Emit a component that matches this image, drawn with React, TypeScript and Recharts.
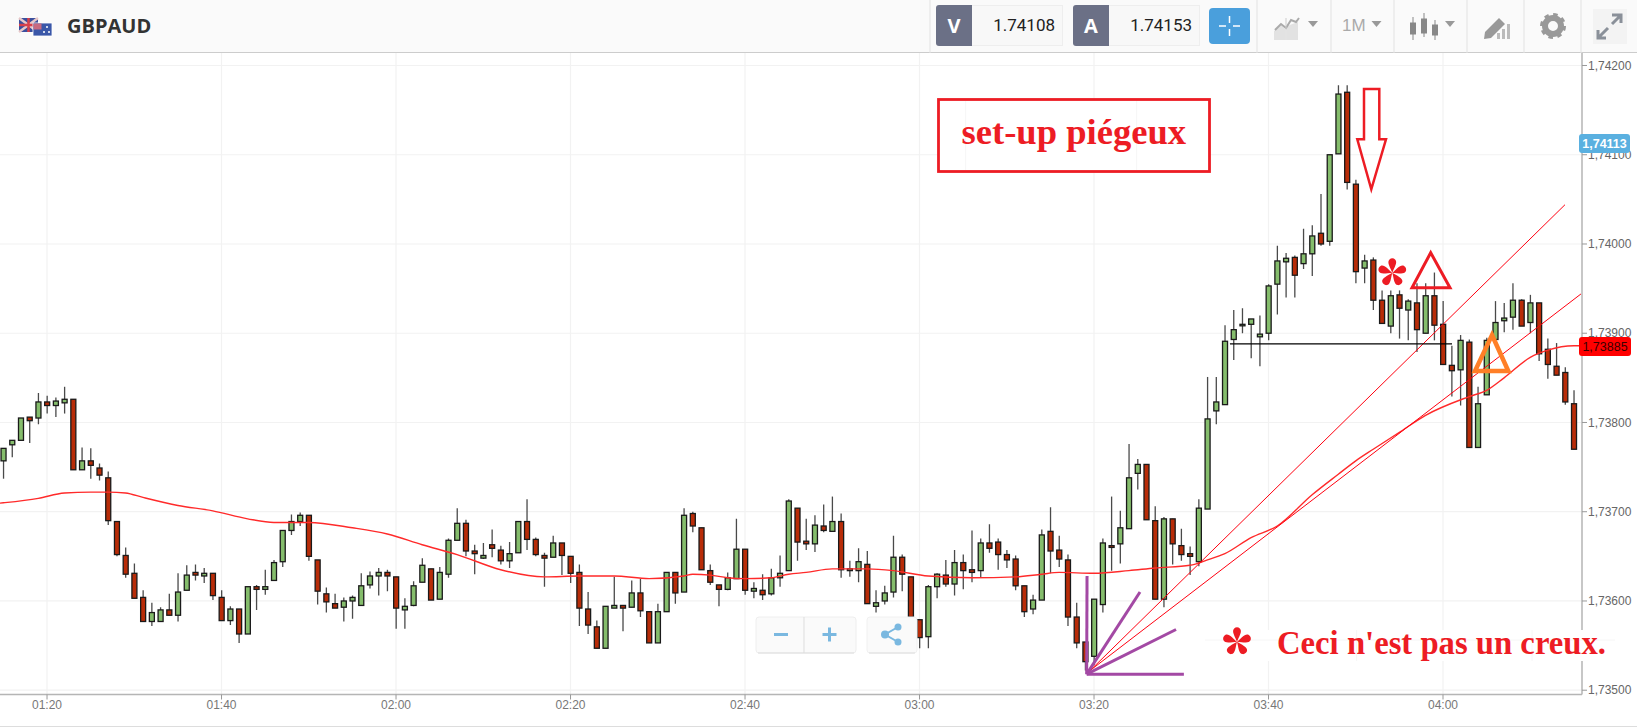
import React from 'react';
import { ComposedChart, Bar, Line, XAxis, YAxis, CartesianGrid, ReferenceLine } from 'recharts';

const firstMinute = 75; // 01:15, one candle per minute

const opens = [
  1.73757, 1.73775, 1.7378, 1.73806, 1.73805, 1.73823, 1.73819, 1.73822, 1.73826, 1.73747,
  1.73757, 1.73749, 1.73738, 1.73689, 1.73651, 1.73631, 1.73604, 1.73577, 1.73577, 1.7359,
  1.73584, 1.73612, 1.73632, 1.73628, 1.73631, 1.73604, 1.73578, 1.73591, 1.73563, 1.73616,
  1.73613, 1.73623, 1.73644, 1.73679, 1.73689, 1.73696, 1.73646, 1.73608, 1.73597, 1.73593,
  1.736, 1.73595, 1.73618, 1.73628, 1.73632, 1.73627, 1.7359, 1.73595, 1.73621, 1.73636,
  1.73602, 1.7363, 1.73668, 1.73687, 1.73656, 1.73648, 1.73663, 1.73657, 1.73645, 1.73654,
  1.73689, 1.73669, 1.73651, 1.73649, 1.73665, 1.7365, 1.73632, 1.73591, 1.73571, 1.73547,
  1.73592, 1.73595, 1.73593, 1.73609, 1.73588, 1.73553, 1.73588, 1.73632, 1.7361, 1.73698,
  1.73682, 1.73634, 1.73618, 1.73613, 1.73625, 1.73658, 1.73611, 1.73612, 1.73608, 1.73626,
  1.73634, 1.73704, 1.73667, 1.73664, 1.73684, 1.73678, 1.73689, 1.73634, 1.73634, 1.73641,
  1.73594, 1.736, 1.7361, 1.73649, 1.73627, 1.73579, 1.7356, 1.73616, 1.73629, 1.73619,
  1.73643, 1.73635, 1.73634, 1.73665, 1.73666, 1.73652, 1.73647, 1.73617, 1.73591, 1.73601,
  1.73678, 1.73657, 1.73646, 1.73582, 1.73554, 1.73538, 1.73596, 1.73662, 1.73664, 1.73681,
  1.73743, 1.73753, 1.7369, 1.73602, 1.73692, 1.73662, 1.73653, 1.73644, 1.73703, 1.73813,
  1.7382, 1.73893, 1.73909, 1.7391, 1.73896, 1.739, 1.73955, 1.7398, 1.73985, 1.73978,
  1.73989, 1.74012, 1.74003, 1.74101, 1.7417, 1.74067, 1.73973, 1.73982, 1.73937, 1.73908,
  1.73943, 1.73926, 1.73934, 1.739, 1.73942, 1.7391, 1.73864, 1.73859, 1.7389, 1.73772,
  1.73831, 1.73893, 1.73914, 1.73918, 1.73937, 1.73912, 1.73934, 1.73882, 1.73863, 1.73856,
  1.73821,
];

const highs = [
  1.73771, 1.7378, 1.73805, 1.73806, 1.73833, 1.7383, 1.73828, 1.7384, 1.73826, 1.73772,
  1.73771, 1.73754, 1.73745, 1.73689, 1.7366, 1.73642, 1.73612, 1.73598, 1.73593, 1.73608,
  1.73631, 1.7364, 1.73641, 1.73637, 1.73631, 1.73612, 1.73594, 1.73591, 1.73616, 1.73618,
  1.73635, 1.73646, 1.73679, 1.73697, 1.73699, 1.73696, 1.73646, 1.73615, 1.73608, 1.73604,
  1.73606, 1.73631, 1.73633, 1.73637, 1.73635, 1.73627, 1.73603, 1.73622, 1.73648, 1.73636,
  1.73638, 1.7367, 1.73704, 1.73691, 1.73663, 1.73665, 1.7368, 1.73662, 1.73666, 1.73689,
  1.73714, 1.73671, 1.73654, 1.73673, 1.73665, 1.7365, 1.73641, 1.7361, 1.73578, 1.73594,
  1.73627, 1.73595, 1.73623, 1.73625, 1.73588, 1.73597, 1.73632, 1.73632, 1.73704, 1.737,
  1.73682, 1.73641, 1.73618, 1.73632, 1.73692, 1.73658, 1.73621, 1.7363, 1.73636, 1.73651,
  1.73714, 1.73704, 1.73692, 1.73696, 1.73708, 1.73717, 1.73698, 1.73645, 1.73659, 1.73656,
  1.73612, 1.73617, 1.73673, 1.73652, 1.73627, 1.73579, 1.73618, 1.73631, 1.73646, 1.73657,
  1.73652, 1.73679, 1.7367, 1.73686, 1.7367, 1.73657, 1.73651, 1.73617, 1.73607, 1.7368,
  1.73705, 1.73673, 1.73652, 1.73598, 1.73554, 1.73602, 1.7367, 1.73717, 1.73701, 1.73776,
  1.73759, 1.73753, 1.73706, 1.73694, 1.73692, 1.73681, 1.73661, 1.73714, 1.73851, 1.73851,
  1.73909, 1.73926, 1.73928, 1.73916, 1.7392, 1.73955, 1.73998, 1.7399, 1.73987, 1.74017,
  1.74021, 1.74056, 1.741, 1.74178, 1.74178, 1.74072, 1.73988, 1.73985, 1.73948, 1.73948,
  1.73948, 1.73938, 1.73956, 1.73956, 1.73968, 1.73936, 1.73886, 1.73898, 1.73893, 1.7384,
  1.73895, 1.73936, 1.73934, 1.73956, 1.73938, 1.73943, 1.73934, 1.73894, 1.73889, 1.73862,
  1.73836,
];

const lows = [
  1.73737, 1.73761, 1.7378, 1.73777, 1.73798, 1.7381, 1.73806, 1.7381, 1.73747, 1.73747,
  1.73737, 1.73735, 1.73685, 1.7365, 1.73626, 1.73603, 1.73577, 1.73572, 1.73577, 1.73584,
  1.73577, 1.73612, 1.73623, 1.7362, 1.73601, 1.73578, 1.73573, 1.73553, 1.73563, 1.7359,
  1.73607, 1.73623, 1.73638, 1.73674, 1.73684, 1.73645, 1.73596, 1.73587, 1.73592, 1.73577,
  1.7358, 1.73595, 1.73614, 1.73606, 1.73611, 1.73569, 1.73569, 1.73594, 1.73621, 1.73601,
  1.73602, 1.73626, 1.73668, 1.7365, 1.7363, 1.73647, 1.73649, 1.73641, 1.73637, 1.73654,
  1.73657, 1.7365, 1.73616, 1.73649, 1.73629, 1.7362, 1.73572, 1.73563, 1.73547, 1.73547,
  1.73592, 1.73566, 1.73593, 1.73582, 1.73553, 1.73553, 1.73588, 1.73597, 1.7361, 1.73677,
  1.73635, 1.73618, 1.73594, 1.73612, 1.73625, 1.73607, 1.73603, 1.73601, 1.73606, 1.73616,
  1.73634, 1.73645, 1.73657, 1.73655, 1.73677, 1.73678, 1.73626, 1.73627, 1.73621, 1.73597,
  1.73587, 1.73596, 1.73604, 1.73611, 1.73572, 1.73547, 1.73547, 1.73603, 1.73616, 1.73606,
  1.73613, 1.73621, 1.73626, 1.73654, 1.73635, 1.73637, 1.73612, 1.73582, 1.73585, 1.73601,
  1.73631, 1.73638, 1.73572, 1.73547, 1.73522, 1.73528, 1.73587, 1.73634, 1.73642, 1.73681,
  1.73725, 1.73691, 1.73602, 1.73593, 1.73641, 1.73645, 1.73629, 1.73639, 1.73703, 1.73798,
  1.7382, 1.7387, 1.739, 1.73872, 1.73863, 1.73892, 1.73921, 1.7394, 1.7394, 1.73972,
  1.73964, 1.73998, 1.73998, 1.74101, 1.74061, 1.73956, 1.73956, 1.73926, 1.73911, 1.739,
  1.73894, 1.73892, 1.73879, 1.739, 1.73892, 1.73865, 1.73829, 1.73819, 1.73772, 1.73772,
  1.73831, 1.73893, 1.73901, 1.73904, 1.73908, 1.739, 1.73869, 1.73849, 1.73853, 1.7382,
  1.7377,
];

const closes = [
  1.73771, 1.7378, 1.73805, 1.73802, 1.73823, 1.73819, 1.73824, 1.73826, 1.73747, 1.73757,
  1.73752, 1.73741, 1.7369, 1.73652, 1.7363, 1.73603, 1.73577, 1.73587, 1.7359, 1.73584,
  1.7361, 1.73629, 1.73629, 1.73631, 1.73606, 1.73578, 1.73591, 1.73563, 1.73616, 1.73613,
  1.73616, 1.73643, 1.73679, 1.73689, 1.73696, 1.7365, 1.73611, 1.73599, 1.73592, 1.736,
  1.73604, 1.73617, 1.73628, 1.73632, 1.73628, 1.73592, 1.73594, 1.73617, 1.7364, 1.73601,
  1.73632, 1.73668, 1.73687, 1.73656, 1.73653, 1.73651, 1.73659, 1.73645, 1.73653, 1.73689,
  1.73669, 1.73652, 1.73648, 1.73665, 1.73651, 1.73631, 1.73592, 1.73573, 1.73547, 1.73594,
  1.73595, 1.73592, 1.73609, 1.73589, 1.73553, 1.73588, 1.73632, 1.73609, 1.73696, 1.73684,
  1.73635, 1.73621, 1.73613, 1.73626, 1.73658, 1.73612, 1.73614, 1.73607, 1.73626, 1.73631,
  1.73712, 1.73666, 1.73664, 1.73685, 1.73679, 1.73689, 1.73635, 1.73636, 1.73644, 1.73597,
  1.73598, 1.73609, 1.73649, 1.7363, 1.73582, 1.73559, 1.73616, 1.7363, 1.73619, 1.73643,
  1.73634, 1.73632, 1.73665, 1.73659, 1.73652, 1.73646, 1.73617, 1.73588, 1.73601, 1.73674,
  1.73656, 1.73647, 1.73582, 1.73553, 1.73532, 1.73602, 1.73665, 1.7366, 1.73682, 1.73738,
  1.73753, 1.73691, 1.73602, 1.73692, 1.73664, 1.73652, 1.7365, 1.73704, 1.73804, 1.73823,
  1.73891, 1.73904, 1.7391, 1.73916, 1.73899, 1.73953, 1.73981, 1.73984, 1.73965, 1.73989,
  1.74009, 1.74, 1.741, 1.74168, 1.74069, 1.73969, 1.73981, 1.73937, 1.73911, 1.73942,
  1.73928, 1.73936, 1.73904, 1.73942, 1.73909, 1.73865, 1.73858, 1.73892, 1.73772, 1.73821,
  1.73892, 1.73912, 1.73917, 1.73937, 1.73908, 1.73934, 1.73877, 1.73865, 1.73853, 1.73823,
  1.7377,
];

// moving average, read where the curve is clear
const maMinutes = [
  74, 75, 79, 82, 85, 87, 89, 91, 95, 99, 103, 106, 110, 115, 119, 123, 127, 132, 137, 141, 145,
  149, 153, 154, 156, 158, 160, 163, 165, 167, 170, 174, 177, 181, 186, 191, 194, 196, 200,
  204, 207, 211, 213, 215, 218, 221, 225, 228, 230, 232, 235, 238, 243, 245, 247, 250, 252, 255, 256,
];
const maValues = [
  1.73709, 1.7371, 1.73715, 1.73721, 1.73722, 1.73722, 1.73721, 1.73716, 1.73707, 1.73701, 1.73692,
  1.73688, 1.73688, 1.73682, 1.73675, 1.73663, 1.73652, 1.73635, 1.73627, 1.73628, 1.73628,
  1.73625, 1.73628, 1.7363, 1.73629, 1.73626, 1.73625, 1.73626, 1.7363, 1.73632, 1.73636,
  1.73636, 1.73634, 1.73628, 1.73626, 1.73627, 1.7363, 1.73632, 1.73631,
  1.73634, 1.73637, 1.7364, 1.73646, 1.73653, 1.73671, 1.73684, 1.73719, 1.73742, 1.73757,
  1.7377, 1.73789, 1.73808, 1.73829, 1.73836, 1.7385, 1.73873, 1.73881, 1.73886, 1.73886,
];

const xTicks = [80, 100, 120, 140, 160, 180, 200, 220, 240];
const yTicks = [1.735, 1.736, 1.737, 1.738, 1.739, 1.74, 1.741, 1.742];

// chart drawings, in minutes and price
const fanRed = [
  [{ x: 199.54, y: 1.73522 }, { x: 253.98, y: 1.74044 }],
  [{ x: 199.54, y: 1.73522 }, { x: 255.81, y: 1.73944 }],
];
const fanPurple = [
  [{ x: 199.16, y: 1.73518 }, { x: 199.2, y: 1.73628 }],
  [{ x: 199.16, y: 1.73518 }, { x: 205.27, y: 1.7361 }],
  [{ x: 199.16, y: 1.73518 }, { x: 209.4, y: 1.73568 }],
  [{ x: 199.16, y: 1.73518 }, { x: 210.3, y: 1.73518 }],
];
const lastLine = [{ x: 215.58, y: 1.73888 }, { x: 241.03, y: 1.73888 }];

const rows: any[] = opens.map((o, i) => ({
  t: firstMinute + i,
  o,
  c: closes[i],
  h: highs[i],
  l: lows[i],
  range: [lows[i], highs[i]],
}));
maMinutes.forEach((m, i) => {
  const row = rows.find((r) => r.t === m);
  if (row) row.ma = maValues[i];
  else rows.push({ t: m, ma: maValues[i] });
});
rows.sort((a, b) => a.t - b.t);

const fmtTime = (m: number) =>
  String(Math.floor(m / 60)).padStart(2, '0') + ':' + String(m % 60).padStart(2, '0');
const fmtPrice = (p: number) => p.toFixed(5).replace('.', ',');

function Candle(props: any) {
  const { x, y, width, height, payload } = props;
  if (!payload || payload.o === undefined) return null;
  const { o, c, h, l } = payload;
  const k = height / (h - l);
  const top = y + (h - Math.max(o, c)) * k;
  const bottom = y + (h - Math.min(o, c)) * k;
  const mid = x + width / 2;
  return (
    <g>
      <line x1={mid} x2={mid} y1={y} y2={y + height} stroke="#4a4a4a" strokeWidth={1.3} />
      <rect
        x={x}
        y={top}
        width={width}
        height={Math.max(bottom - top, 1.5)}
        fill={c >= o ? '#85bd6c' : '#b82c08'}
        stroke="#1a1a1a"
        strokeWidth={1.3}
      />
    </g>
  );
}

function Asterisk({ cx, cy, r }: { cx: number; cy: number; r: number }) {
  const petal = `M${cx} ${cy}C${cx - r * 0.12} ${cy - r * 0.35} ${cx - r * 0.42} ${cy - r * 0.75} ${cx - r * 0.2} ${cy - r * 0.95}C${cx - r * 0.1} ${cy - r * 1.05} ${cx + r * 0.1} ${cy - r * 1.05} ${cx + r * 0.2} ${cy - r * 0.95}C${cx + r * 0.42} ${cy - r * 0.75} ${cx + r * 0.12} ${cy - r * 0.35} ${cx} ${cy}Z`;
  return (
    <g fill="#ed1c24">
      {[0, 72, 144, 216, 288].map((a) => (
        <path key={a} d={petal} transform={`rotate(${a} ${cx} ${cy})`} />
      ))}
    </g>
  );
}

const box = (style: React.CSSProperties): React.CSSProperties => ({ position: 'absolute', ...style });

function PriceBox({ x, letter, value, w }: { x: number; letter: string; value: string; w: number }) {
  return (
    <>
      <div
        style={box({
          left: x, top: 5, width: 36, height: 41, background: '#6b7086', color: '#fff', borderRadius: '3px 0 0 3px',
          font: '700 20px "Open Sans"', lineHeight: '41px', textAlign: 'center',
        })}
      >
        {letter}
      </div>
      <div
        style={box({
          left: x + 36, top: 5, width: w, height: 39, background: '#f8f8f8', border: '1px solid #eee', borderLeft: 'none',
          font: '400 17px Roboto', lineHeight: '39px', color: '#222', textAlign: 'right', paddingRight: 0,
        })}
      >
        <span style={{ marginRight: 7 }}>{value}</span>
      </div>
    </>
  );
}

function Toolbar() {
  return (
    <div style={box({ left: 0, top: 0, width: 1637, height: 53, background: '#fafafa', borderBottom: '1px solid #ccc', boxSizing: 'border-box' })}>
      <svg width={1637} height={53} style={box({ left: 0, top: 0 })}>
        {/* flags */}
        <rect x={19} y={18} width={19} height={14} fill="#3b4f9e" />
        <path d="M19 18L38 32M38 18L19 32" stroke="#e8c8c8" strokeWidth={2.5} />
        <path d="M28.5 18V32M19 25H38" stroke="#d8404a" strokeWidth={2.5} />
        <rect x={33} y={23} width={19} height={13} fill="#3a57a8" stroke="#fff" strokeWidth={0.8} />
        <rect x={33.5} y={23.5} width={8} height={6} fill="#c86a80" />
        <circle cx={47} cy={27} r={1} fill="#fff" />
        <circle cx={44} cy={32} r={1} fill="#fff" />
        <circle cx={49} cy={32} r={1} fill="#fff" />
        {/* separators */}
        {[930, 1257, 1331, 1394, 1467, 1524, 1581].map((x) => (
          <line key={x} x1={x} x2={x} y1={0} y2={53} stroke="#e2e2e2" />
        ))}
        {/* chart type */}
        <path d="M1274 40V31L1281 25L1285 29V40ZM1287 40V26L1298 22V40Z" fill="#e2e2e2" />
        <path d="M1275 30L1281 24L1286 28L1291 20L1296 22L1299 18" stroke="#aaa" strokeWidth={2} fill="none" />
        <line x1={1286} x2={1286} y1={18} y2={40} stroke="#ccc" />
        {[1313, 1376.5, 1450].map((x) => (
          <path key={x} d={`M${x - 5} 21H${x + 5}L${x} 27Z`} fill="#999" />
        ))}
        {/* candles icon */}
        <g fill="#888" stroke="#888">
          <line x1={1413} x2={1413} y1={17} y2={40} /><rect x={1410.5} y={23} width={5} height={11} />
          <line x1={1424} x2={1424} y1={13} y2={37} /><rect x={1421.5} y={19} width={5} height={14} />
          <line x1={1435} x2={1435} y1={20} y2={40} /><rect x={1432.5} y={25} width={5} height={10} />
        </g>
        {/* pen and small bars */}
        <path d="M1485 32L1499 18L1505 24L1491 38L1484 39Z" fill="#999" />
        <path d="M1497 39V33H1500V39ZM1502 39V29H1505V39ZM1507 39V24H1510V39Z" fill="#bbb" />
        {/* gear */}
        <circle cx={1553} cy={26} r={8} fill="none" stroke="#999" strokeWidth={6} />
        <circle cx={1553} cy={26} r={11.5} fill="none" stroke="#999" strokeWidth={3} strokeDasharray="4.5 4.5" />
        {/* expand */}
        <rect x={1593} y={9} width={34} height={35} fill="#f3f3f3" />
        <path d="M1599 37L1608 28M1598 30V38H1606M1620 16L1612 24M1612 15H1621V23" stroke="#8a9099" strokeWidth={3} fill="none" />
      </svg>
      <div style={box({ left: 67, top: 12, font: '700 20px "Open Sans"', lineHeight: '28px', color: '#333' })}>GBPAUD</div>
      <PriceBox x={936} letter="V" value="1.74108" w={90} />
      <PriceBox x={1073} letter="A" value="1.74153" w={90} />
      <div style={box({ left: 1209, top: 8, width: 41, height: 36, background: '#4a9fdc', borderRadius: 4 })}>
        <svg width={41} height={36}>
          <path d="M20.5 8V15M20.5 21V28M10 18H17M24 18H31" stroke="#fff" strokeWidth={1.5} />
        </svg>
      </div>
      <div style={box({ left: 1342, top: 12, font: '400 17px "Liberation Sans"', lineHeight: '28px', color: '#aaa' })}>1M</div>
    </div>
  );
}

function Overlay() {
  const red = '#ed1c24';
  return (
    <svg width={1637} height={728} style={box({ left: 0, top: 0, pointerEvents: 'none' })}>
      {/* zoom buttons */}
      <rect x={756} y={617} width={100} height={36} rx={3} fill="#fafafa" stroke="#eee" />
      <line x1={758} x2={854} y1={653} y2={653} stroke="#ddd" />
      <line x1={804} x2={804} y1={617} y2={653} stroke="#ddd" />
      <path d="M774 634.5H788M829.5 627.5V641.5M822.5 634.5H836.5" stroke="#7ab8e0" strokeWidth={3} />
      <rect x={867} y={617} width={50} height={36} rx={3} fill="#fafafa" stroke="#f0f0f0" />
      <line x1={869} x2={915} y1={653} y2={653} stroke="#ddd" />
      <path d="M898 627L885 634.5L898 642" stroke="#7ab8e0" strokeWidth={2} fill="none" />
      <circle cx={898} cy={627} r={3.5} fill="#7ab8e0" />
      <circle cx={885} cy={634.5} r={4} fill="#7ab8e0" />
      <circle cx={898} cy={642} r={3.5} fill="#7ab8e0" />

      {/* set-up box */}
      <rect x={938.5} y={99.5} width={271} height={72} fill="#fff" stroke={red} strokeWidth={2.8} />
      <path d="M965.7 101V170M1136.7 101V170" stroke="#f6f6f6" />
      <text x={961.5} y={144.3} fontFamily="'Liberation Serif'" fontWeight={700} fontSize={36.6} fill={red}>set-up piégeux</text>

      {/* arrow and triangles */}
      <path d="M1364 89H1379.3V139.3H1386L1371.3 189.3L1357.3 139.3H1364Z" fill="none" stroke={red} strokeWidth={2.5} />
      <path d="M1430.7 252.7L1450 287.7H1412Z" fill="none" stroke={red} strokeWidth={3} />
      <path d="M1492 335L1508.3 371H1475Z" fill="none" stroke="#ff7f27" strokeWidth={4.5} />
      <Asterisk cx={1392.3} cy={272.7} r={14} />

      {/* bottom note */}
      <rect x={1205} y={630} width={410} height={31} fill="#fff" />
      <path d="M1205 640H1615M1356.7 630V661M1532 630V661" stroke="#f6f6f6" />
      <Asterisk cx={1237} cy={641.7} r={14} />
      <text x={1277} y={654} fontFamily="'Liberation Serif'" fontWeight={700} fontSize={32.7} fill={red}>Ceci n'est pas un creux.</text>

      {/* price flags */}
      <rect x={1579} y={134} width={51} height={19} rx={3} fill="#5ab0e0" />
      <text x={1604.5} y={148} textAnchor="middle" fontFamily="'Liberation Sans'" fontWeight={700} fontSize={12.5} fill="#fff">1,74113</text>
      <rect x={1579} y={337} width={52} height={19} rx={3} fill="#ff0000" />
      <text x={1605} y={351} textAnchor="middle" fontFamily="'Liberation Sans'" fontSize={12.5} fill="#3a0000">1,73885</text>
    </svg>
  );
}

export default function App() {
  return (
    <div style={{ position: 'fixed', left: 0, top: 0, width: 1637, height: 728, background: '#fff', overflow: 'hidden' }}>
      <div style={box({ left: 0, top: 0 })}>
        <ComposedChart width={1637} height={728} data={rows} margin={{ top: 53, right: 0, bottom: 0, left: 0 }}>
          <CartesianGrid stroke="#f2f2f2" strokeWidth={1.2} verticalValues={xTicks} horizontalValues={yTicks} />
          <XAxis
            dataKey="t"
            type="number"
            domain={[74.61, 255.93]}
            ticks={xTicks}
            tickFormatter={fmtTime}
            height={33.5}
            tick={{ fontFamily: 'Liberation Sans', fontSize: 12, fill: '#777' }}
            tickSize={5}
            tickMargin={1}
            axisLine={{ stroke: '#b5b5b5', strokeWidth: 1.5 }}
            tickLine={{ stroke: '#999' }}
            allowDataOverflow
          />
          <YAxis
            orientation="right"
            type="number"
            domain={[1.734952, 1.74214]}
            ticks={yTicks}
            tickFormatter={fmtPrice}
            width={55}
            tick={{ fontFamily: 'Liberation Sans', fontSize: 12, fill: '#666' }}
            tickSize={5}
            tickMargin={1}
            axisLine={{ stroke: '#b5b5b5', strokeWidth: 1.5 }}
            tickLine={{ stroke: '#999' }}
            allowDataOverflow
          />
          <Bar dataKey="range" barSize={5} shape={<Candle />} isAnimationActive={false} />
          <Line dataKey="ma" type="monotone" stroke="#ff2a2a" strokeWidth={1.4} dot={false} connectNulls isAnimationActive={false} />
          {fanRed.map((s, i) => (
            <ReferenceLine key={'r' + i} segment={s} stroke="#ff0010" strokeWidth={1} ifOverflow="visible" />
          ))}
          {fanPurple.map((s, i) => (
            <ReferenceLine key={'p' + i} segment={s} stroke="#a349a4" strokeWidth={3} ifOverflow="visible" />
          ))}
          <ReferenceLine segment={lastLine} stroke="#000" strokeWidth={1.3} ifOverflow="visible" />
        </ComposedChart>
      </div>
      <Toolbar />
      <Overlay />
      <div style={box({ left: 0, top: 726, width: 1637, height: 1, background: '#ddd' })} />
    </div>
  );
}
